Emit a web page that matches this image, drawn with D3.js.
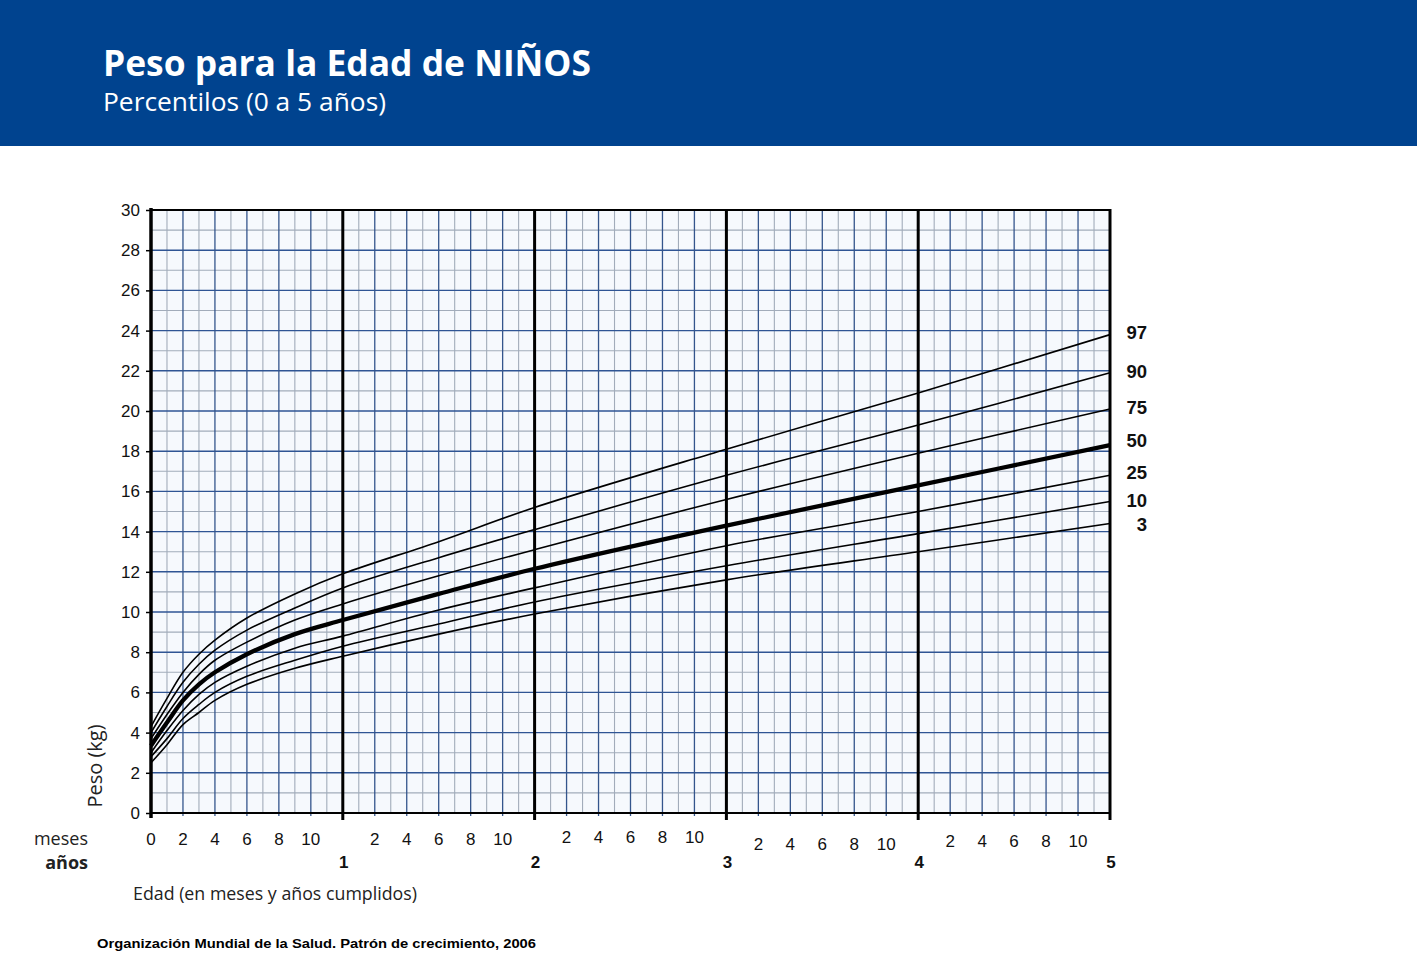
<!DOCTYPE html>
<html><head><meta charset="utf-8">
<script src="https://cdn.jsdelivr.net/npm/d3@7"></script>
<style>body{margin:0;background:#fff}svg{display:block}</style>
</head><body>
<svg id="c" width="1417" height="973"></svg>
<script>
// Data (kg) by age in months
const months = [0,1,2,3,4,6,9,12,18,24,36,48,60];
const p3  = [2.5,3.4,4.4,5.0,5.6,6.4,7.2,7.8,8.9,9.9,11.6,13.0,14.4];
const p10 = [2.8,3.7,4.7,5.4,6.0,6.8,7.6,8.3,9.4,10.5,12.3,13.9,15.5];
const p25 = [3.0,4.1,5.1,5.9,6.5,7.3,8.2,8.8,10.1,11.2,13.3,15.0,16.8];
const p50 = [3.35,4.5,5.6,6.4,7.0,7.9,8.9,9.6,10.9,12.15,14.3,16.3,18.3];
const p75 = [3.7,4.9,6.0,6.9,7.6,8.5,9.6,10.4,11.8,13.1,15.6,17.9,20.1];
const p90 = [4.0,5.3,6.5,7.4,8.1,9.1,10.2,11.2,12.7,14.1,16.8,19.3,21.9];
const p97 = [4.3,5.7,7.0,7.9,8.6,9.7,10.9,11.9,13.5,15.2,18.1,20.9,23.8];
const percentileNames = ["97","90","75","50","25","10","3"];
const seriesList = [p97,p90,p75,p50,p25,p10,p3];
const yTicks = [0,2,4,6,8,10,12,14,16,18,20,22,24,26,28,30];
const monthTickLabels = ["2","4","6","8","10"];
const yearLabels = ["1","2","3","4","5"];

const svg = d3.select("#c");
const X0=151, X1=1110, Y0=813, Y1=210;
const x = d3.scaleLinear().domain([0,60]).range([X0,X1]);
const y = d3.scaleLinear().domain([0,30]).range([Y0,Y1]);
const arial = "'Liberation Sans',Arial,sans-serif";

// header
svg.append("rect").attr("x",0).attr("y",0).attr("width",1417).attr("height",146).attr("fill","#00438f");
svg.append("text").attr("x",103).attr("y",76).attr("fill","#fff")
  .style("font-family","'Open Sans',sans-serif").style("font-weight","700").style("font-size","35px")
  .attr("textLength",488).attr("lengthAdjust","spacingAndGlyphs").text("Peso para la Edad de NIÑOS");
svg.append("text").attr("x",103).attr("y",111).attr("fill","#fff")
  .style("font-family","'Open Sans',sans-serif").style("font-size","25px")
  .attr("textLength",283).attr("lengthAdjust","spacingAndGlyphs").text("Percentilos (0 a 5 años)");

const g = svg.append("g");
g.append("rect").attr("x",X0).attr("y",Y1).attr("width",X1-X0).attr("height",Y0-Y1).attr("fill","#f6f9fd");
g.selectAll(".hm").data(d3.range(1,30,2)).join("line")
  .attr("x1",X0).attr("x2",X1).attr("y1",d=>y(d)).attr("y2",d=>y(d))
  .attr("stroke","#a2acba").attr("stroke-width",1.1);
g.selectAll(".vm").data(d3.range(1,60,2)).join("line")
  .attr("y1",Y1).attr("y2",Y0).attr("x1",d=>x(d)).attr("x2",d=>x(d))
  .attr("stroke","#a2acba").attr("stroke-width",1.1);
g.selectAll(".hM").data(d3.range(2,30,2)).join("line")
  .attr("x1",X0).attr("x2",X1).attr("y1",d=>y(d)).attr("y2",d=>y(d))
  .attr("stroke","#2f5594").attr("stroke-width",1.4);
g.selectAll(".vM").data(d3.range(2,60,2).filter(d=>d%12!==0)).join("line")
  .attr("y1",Y1).attr("y2",Y0+3).attr("x1",d=>x(d)).attr("x2",d=>x(d))
  .attr("stroke","#34558c").attr("stroke-width",1.3);
g.append("line").attr("x1",X0).attr("x2",X1).attr("y1",Y1).attr("y2",Y1).attr("stroke","#000").attr("stroke-width",2);
g.selectAll(".yr").data([12,24,36,48,60]).join("line")
  .attr("y1",Y1-1).attr("y2",Y0+7).attr("x1",d=>x(d)).attr("x2",d=>x(d))
  .attr("stroke","#000").attr("stroke-width",3);

// y axis
const yAxis = d3.axisLeft(y).tickValues(yTicks).tickSize(5).tickPadding(6);
const ya = svg.append("g").attr("transform",`translate(${X0},0)`).call(yAxis);
ya.select(".domain").attr("stroke","#000").attr("stroke-width",3.5).attr("d",`M0,${Y0+5}V${Y1-2}`);
ya.selectAll(".tick line").attr("stroke","#000").attr("stroke-width",1.5);
ya.selectAll("text").attr("fill","#111").style("font-family",arial).style("font-size","17px");

svg.append("line").attr("x1",X0).attr("x2",X1+1).attr("y1",Y0).attr("y2",Y0).attr("stroke","#000").attr("stroke-width",2);

// curves
const line = d3.line().x((d,i)=>x(months[i])).y(d=>y(d)).curve(d3.curveCatmullRom.alpha(0.5));
const cg = svg.append("g");
seriesList.forEach((s,k)=>{
  cg.append("path").attr("d",line(s)).attr("fill","none").attr("stroke","#000")
    .attr("stroke-width",percentileNames[k]==="50"?4.3:1.6);
});

// percentile labels
const labY = {"97":332,"90":371,"75":407,"50":440,"25":472,"10":500,"3":524};
svg.selectAll(".pl").data(percentileNames).join("text")
  .attr("x",1147).attr("y",d=>labY[d]+7).attr("text-anchor","end")
  .style("font-family",arial).style("font-weight","700").style("font-size","18.5px")
  .attr("fill","#111").text(d=>d);

// month labels
const firstYear = ["0"].concat(monthTickLabels);
const rowY = [845,845,843,850,847];
svg.selectAll(".m0").data(firstYear).join("text")
  .attr("x",(d)=>x(+d)).attr("y",rowY[0]).attr("text-anchor","middle")
  .style("font-family",arial).style("font-size","17px").attr("fill","#111").text(d=>d);
[1,2,3,4].forEach(yr=>{
  svg.selectAll(".m"+yr).data(monthTickLabels).join("text")
    .attr("x",d=>x(yr*12+ +d)).attr("y",rowY[yr]).attr("text-anchor","middle")
    .style("font-family",arial).style("font-size","17px").attr("fill","#111").text(d=>d);
});
svg.selectAll(".yl").data(yearLabels).join("text")
  .attr("x",(d)=>x(+d*12)+1).attr("y",868).attr("text-anchor","middle")
  .style("font-family",arial).style("font-weight","700").style("font-size","17px").attr("fill","#111").text(d=>d);

// axis titles
const hf = "'Open Sans','Noto Sans',sans-serif";
svg.append("text").attr("transform","translate(102,766) rotate(-90)").attr("text-anchor","middle")
  .style("font-family",hf).style("font-size","20px").attr("fill","#222").text("Peso (kg)");
svg.append("text").attr("x",88).attr("y",845).attr("text-anchor","end")
  .style("font-family",hf).style("font-size","18px").attr("fill","#222").text("meses");
svg.append("text").attr("x",88).attr("y",869).attr("text-anchor","end")
  .style("font-family",hf).style("font-weight","700").style("font-size","18px").attr("fill","#222").text("años");
svg.append("text").attr("x",133).attr("y",900)
  .style("font-family",hf).style("font-size","18px").attr("fill","#222")
  .attr("textLength",284).attr("lengthAdjust","spacingAndGlyphs").text("Edad (en meses y años cumplidos)");
svg.append("text").attr("x",97).attr("y",948)
  .style("font-family",arial).style("font-weight","700").style("font-size","13.5px").attr("fill","#000")
  .attr("textLength",439).attr("lengthAdjust","spacingAndGlyphs").text("Organización Mundial de la Salud. Patrón de crecimiento, 2006");
</script>
</body></html>
